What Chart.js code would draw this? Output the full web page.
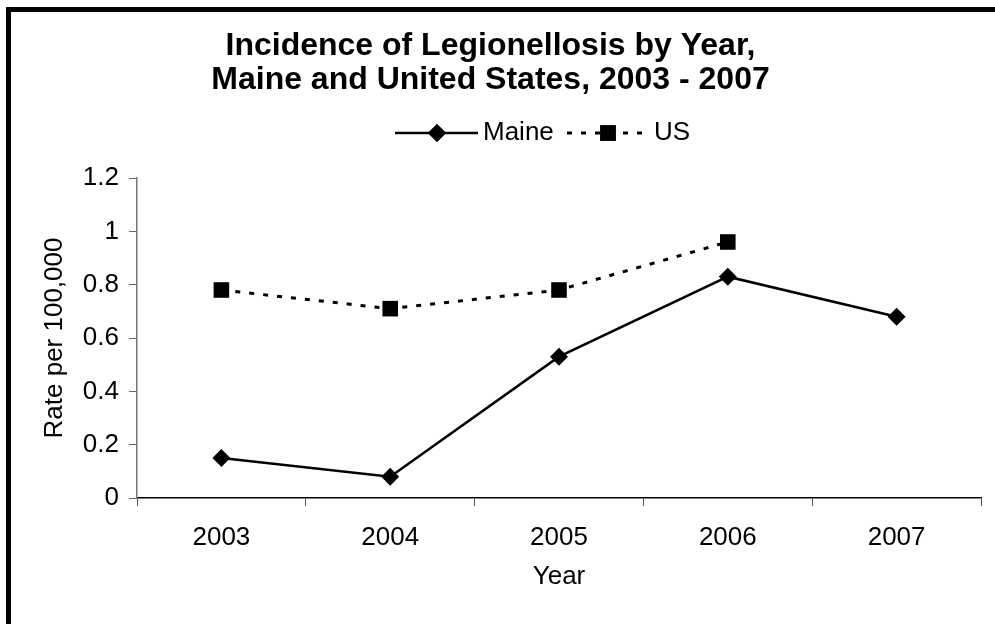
<!DOCTYPE html>
<html>
<head>
<meta charset="utf-8">
<script src="https://cdn.jsdelivr.net/npm/chart.js@4"></script>
<style>
  body { margin: 0; background: #fff; }
  .wrap { position: relative; width: 995px; height: 624px; overflow: hidden; }
  .frame { position: absolute; left: 6px; top: 7px; width: 1100px; height: 700px; border-left: 5px solid #000; border-top: 5px solid #000; }
  canvas { position: absolute; left: 0; top: 0; }
</style>
</head>
<body>
<div class="wrap">
  <div class="frame"></div>
  <canvas id="myChart" width="995" height="624"></canvas>
</div>
<script>
// Years
const years = ["2003", "2004", "2005", "2006", "2007"];

// Rates per 100,000
const maineRates = [0.15, 0.08, 0.53, 0.83, 0.68];
const usRates = [0.78, 0.71, 0.78, 0.96, null];

// Y ticks
const yMin = 0;
const yMax = 1.2;
const yStep = 0.2;

const titleLines = ["Incidence of Legionellosis by Year,", "Maine and United States, 2003 - 2007"];

const fontFamily = "'Liberation Sans', Arial, sans-serif";
const textSize = 26;

// draws the legend as line + marker + label, like the excel one
const lineLegend = {
  id: "lineLegend",
  afterDraw(chart) {
    const ctx = chart.ctx;
    const y = 133;
    const items = [
      { ds: chart.data.datasets[0], x0: 395, x1: 478, mx: 437, tx: 483 },
      { ds: chart.data.datasets[1], x0: 567, x1: 650, mx: 608, tx: 654 }
    ];
    items.forEach(it => {
      ctx.save();
      ctx.strokeStyle = it.ds.borderColor;
      ctx.lineWidth = it.ds.borderWidth;
      ctx.setLineDash(it.ds.borderDash || []);
      ctx.beginPath();
      ctx.moveTo(it.x0, y);
      ctx.lineTo(it.x1, y);
      ctx.stroke();
      ctx.setLineDash([]);
      Chart.helpers.drawPoint(ctx, {
        pointStyle: it.ds.pointStyle,
        radius: it.ds.pointRadius,
        borderWidth: 0,
        rotation: 0
      }, it.mx, y);
      ctx.fillStyle = "#000";
      ctx.fill();
      ctx.font = textSize + "px " + fontFamily;
      ctx.textBaseline = "middle";
      ctx.textAlign = "left";
      ctx.fillText(it.ds.label, it.tx, y);
      ctx.restore();
    });
  }
};

const ctx = document.getElementById("myChart").getContext("2d");
const myChart = new Chart(ctx, {
  type: "line",
  data: {
    labels: years,
    datasets: [
      {
        label: "Maine",
        data: maineRates,
        borderColor: "#000",
        backgroundColor: "#000",
        borderWidth: 2.5,
        pointStyle: "rectRot",
        pointRadius: 9,
        pointBorderWidth: 0,
        tension: 0
      },
      {
        label: "US",
        data: usRates,
        borderColor: "#000",
        backgroundColor: "#000",
        borderWidth: 3,
        borderDash: [5, 9],
        pointStyle: "rect",
        pointRadius: 11,
        pointBorderWidth: 0,
        tension: 0
      }
    ]
  },
  options: {
    responsive: false,
    animation: false,
    layout: { padding: { left: 0, right: 14, top: 0, bottom: 0 } },
    plugins: {
      legend: { display: false },
      tooltip: { enabled: false },
      title: {
        display: true,
        text: titleLines,
        color: "#000",
        font: { family: fontFamily, size: 32, weight: "bold", lineHeight: 34 / 32 },
        padding: { top: 29, bottom: 81 }
      }
    },
    scales: {
      x: {
        offset: true,
        grid: { offset: true, drawOnChartArea: false, drawTicks: true, tickLength: 8, color: "#000", tickColor: "#555" },
        border: { color: "#000", width: 1.5 },
        ticks: { color: "#000", font: { family: fontFamily, size: textSize }, padding: 16 },
        title: { display: true, text: "Year", color: "#000", font: { family: fontFamily, size: textSize }, padding: { top: 0, bottom: 32 } },
        afterFit(scale) { scale.height = 126; }
      },
      y: {
        min: yMin,
        max: yMax,
        ticks: {
          stepSize: yStep,
          color: "#000",
          font: { family: fontFamily, size: textSize },
          padding: 10,
          callback: v => String(parseFloat(v.toFixed(1)))
        },
        grid: { drawOnChartArea: false, drawTicks: true, tickLength: 8, tickColor: "#666" },
        border: { color: "#777", width: 1.5 },
        title: { display: true, text: "Rate per 100,000", color: "#000", font: { family: fontFamily, size: textSize }, padding: { top: 39, bottom: 0 } },
        afterFit(scale) { scale.width = 137; }
      }
    }
  },
  plugins: [lineLegend]
});
</script>
</body>
</html>
